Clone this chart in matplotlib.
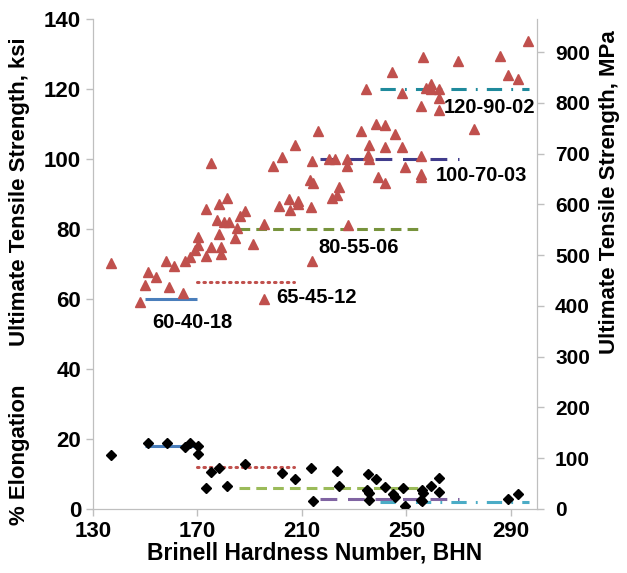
import numpy as np
import matplotlib
matplotlib.use("Agg")
import matplotlib.pyplot as plt

plt.rcParams['font.family'] = ['Liberation Sans', 'DejaVu Sans']
plt.rcParams['font.weight'] = 'bold'

# tensile strength (ksi) vs hardness
uts_bhn = [136.9, 148.1, 150.0, 151.0, 154.2, 159.2, 158.1, 161.2, 164.3, 165.4,
           167.3, 169.2, 170.1, 170.1, 173.2, 175.3, 175.3, 173.1, 178.2, 181.2,
           177.3, 180.1, 182.0, 178.2, 179.2, 179.2, 184.2, 185.3, 186.3, 188.2,
           191.4, 195.3, 195.3, 199.1, 202.3, 207.4, 213.8, 216.3, 213.2, 214.3,
           205.0, 208.5, 208.6, 201.3, 205.4, 213.5, 213.8, 220.5, 222.5, 227.3,
           227.1, 227.5, 221.5, 223.5, 224.3, 232.7, 235.7, 235.4, 235.6, 238.5,
           241.7, 241.7, 239.1, 241.7, 245.5, 248.5, 249.6, 255.6, 255.5, 255.5,
           234.6, 244.6, 256.5, 248.5, 255.6, 257.5, 259.6, 259.4, 262.5, 262.5,
           262.6, 269.6, 275.8, 285.9, 288.8, 292.7, 296.7]
uts_ksi = [70.2, 59.1, 64.0, 67.8, 66.4, 63.5, 70.9, 69.5, 61.6, 70.9,
           71.9, 74.0, 75.4, 77.8, 72.3, 74.8, 98.9, 85.7, 87.1, 88.9,
           82.6, 82.1, 82.1, 78.6, 74.9, 72.9, 77.5, 80.3, 83.7, 85.2,
           75.7, 81.3, 59.9, 98.1, 100.5, 104.0, 99.5, 108.0, 94.0, 93.1,
           88.7, 88.1, 87.1, 86.6, 85.5, 86.4, 71.0, 100.1, 100.1, 99.9,
           98.1, 81.1, 88.8, 89.7, 92.0, 107.9, 103.9, 101.1, 100.0, 110.0,
           109.6, 103.4, 94.8, 93.1, 107.1, 103.3, 97.8, 101.0, 95.7, 94.9,
           120.0, 124.9, 129.2, 119.0, 115.1, 120.2, 121.4, 120.0, 119.9, 117.3,
           114.0, 128.1, 108.5, 129.5, 124.0, 122.9, 133.8]

# elongation (%) vs hardness
el_bhn = [136.9, 151.0, 158.2, 165.4, 167.3, 170.1, 170.1, 173.1, 175.3, 178.2,
          181.2, 188.2, 202.3, 207.4, 213.5, 214.4, 223.5, 224.3, 235.3, 238.5,
          234.8, 235.5, 235.5, 241.7, 245.0, 245.8, 248.7, 249.6, 255.8, 256.3,
          255.5, 255.8, 259.6, 262.5, 262.5, 288.8, 292.7]
el_pct = [15.3, 18.8, 18.8, 17.8, 18.8, 18.1, 15.7, 5.9, 10.7, 11.8,
          6.6, 12.8, 10.4, 8.7, 11.8, 2.3, 10.9, 6.6, 10.0, 8.7,
          5.4, 4.7, 2.5, 6.4, 4.3, 3.4, 5.9, 0.9, 5.5, 4.7,
          2.7, 2.3, 6.6, 8.8, 4.9, 2.8, 4.2]

# ductile iron grades: tensile-yield-elongation
grades = ['60-40-18', '65-45-12', '80-55-06', '100-70-03', '120-90-02']
grade_uts = [60, 65, 80, 100, 120]
grade_el = [18, 12, 6, 3, 2]
grade_bhn_lo = [150, 170, 186, 217, 240]
grade_bhn_hi = [170, 207, 255, 270, 297]

styles = [
    dict(uc='#4A7EBB', ec='#4A7EBB', ls='-'),
    dict(uc='#C0504D', ec='#C0504D', ls=(0, (0.5, 1.6))),
    dict(uc='#77933C', ec='#9BBB59', ls=(0, (3.5, 2))),
    dict(uc='#403C8C', ec='#8064A2', ls=(0, (5.5, 3.5))),
    dict(uc='#1F8A9C', ec='#4BACC6', ls=(0, (5, 3, 0.6, 3))),
]
label_pos = [(152.5, 53.4), (200.2, 60.3), (216.3, 74.6), (261.3, 95.4), (264.4, 114.6)]

fig = plt.figure(figsize=(6.27, 5.73), dpi=100)
ax = fig.add_axes([93 / 627, 1 - 509 / 573, 444 / 627, 490 / 573])

for i in range(len(grades)):
    st = styles[i]
    ax.plot([grade_bhn_lo[i], grade_bhn_hi[i]], [grade_uts[i], grade_uts[i]],
            color=st['uc'], ls=st['ls'], lw=2.2, solid_capstyle='butt',
            dash_capstyle='round' if i == 1 else 'butt', zorder=2)
    ax.plot([grade_bhn_lo[i], grade_bhn_hi[i]], [grade_el[i], grade_el[i]],
            color=st['ec'], ls=st['ls'], lw=2.2, solid_capstyle='butt',
            dash_capstyle='round' if i == 1 else 'butt', zorder=2)
    ax.text(label_pos[i][0], label_pos[i][1], grades[i], fontsize=14.5,
            fontweight='bold', va='center', ha='left', zorder=4)

ax.plot(uts_bhn, uts_ksi, '^', color='#C0504D', ms=6.5, ls='none', zorder=3)
ax.plot(el_bhn, el_pct, 'D', color='black', ms=5.5, ls='none', zorder=3)

ax.set_xlim(130, 300)
ax.set_ylim(0, 140)
ax.set_xticks([130, 170, 210, 250, 290])
ax.set_yticks(np.arange(0, 141, 20))

ax2 = ax.twinx()
ax2.set_ylim(0, 140 * 6.895)
ax2.set_yticks(np.arange(0, 901, 100))

for a in (ax, ax2):
    for s in a.spines.values():
        s.set_color('#BFBFBF')
    a.spines['top'].set_visible(False)
    a.tick_params(colors='#BFBFBF', labelcolor='black', labelsize=16, length=5, width=1)
    for lab in a.get_xticklabels() + a.get_yticklabels():
        lab.set_fontweight('bold')
ax2.tick_params(axis='y', pad=8, labelsize=15)

fig.text(315 / 627, 1 - 553 / 573, 'Brinell Hardness Number, BHN',
         fontsize=16.5, fontweight='bold', ha='center', va='center')
fig.text(20 / 627, 1 - 192 / 573, 'Ultimate Tensile Strength, ksi', rotation=90,
         fontsize=16, fontweight='bold', ha='center', va='center')
fig.text(20 / 627, 1 - 455 / 573, '% Elongation', rotation=90,
         fontsize=16, fontweight='bold', ha='center', va='center')
fig.text(610 / 627, 1 - 192 / 573, 'Ultimate Tensile Strength, MPa', rotation=90,
         fontsize=16, fontweight='bold', ha='center', va='center')

fig.savefig('out.png', dpi=100)
